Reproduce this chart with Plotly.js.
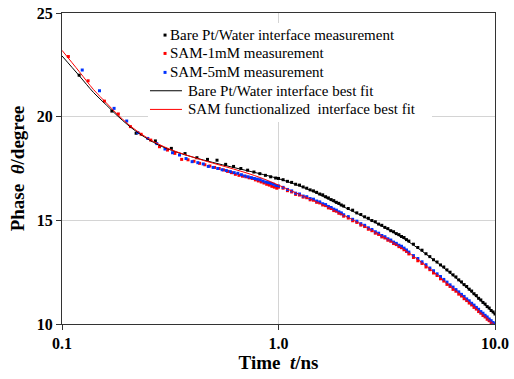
<!DOCTYPE html>
<html>
<head>
<meta charset="utf-8">
<script src="https://cdn.plot.ly/plotly-3.0.1.min.js"></script>
<style>html,body{margin:0;padding:0;background:#fff;}#chart{width:514px;height:379px;}</style>
</head>
<body>
<div id="chart"></div>
<script>
// shared dense time grid (ns) for t >= 1
const tDense = [1.0,1.05,1.1,1.15,1.2,1.25,1.3,1.35,1.4,1.45,1.5,1.55,1.6,1.65,1.7,1.75,1.8,1.85,1.9,1.95,2.0,
  2.1,2.2,2.3,2.4,2.5,2.6,2.7,2.8,2.9,3.0,3.1,3.2,3.3,3.4,3.5,3.6,3.7,3.8,3.9,4.0,
  4.2,4.4,4.6,4.8,5.0,5.2,5.4,5.6,5.8,6.0,6.2,6.4,6.6,6.8,7.0,7.2,7.4,7.6,7.8,8.0,8.2,8.4,8.6,8.8,9.0,9.2,9.4,9.6,9.8,10.0];

// Bare Pt/Water measurement
const bareEarlyT = [0.12,0.17,0.22,0.27,0.32,0.37,0.42,0.47,0.52,0.57,0.62,0.67,0.72,0.77,0.82,0.87,0.92,0.97];
const bareEarlyY = [22.0,20.27,19.2,18.83,18.47,18.22,18.02,17.94,17.9,17.7,17.6,17.5,17.42,17.33,17.25,17.17,17.1,17.04];
const bareDenseY = [17.02,16.96,16.88,16.83,16.74,16.70,16.61,16.55,16.47,16.42,16.35,16.27,16.23,16.14,16.08,16.00,15.95,15.87,15.82,15.74,15.69,
  15.57,15.49,15.36,15.28,15.17,15.10,14.99,14.93,14.82,14.76,14.66,14.60,14.50,14.45,14.36,14.31,14.22,14.17,14.07,14.00,
  13.85,13.69,13.56,13.39,13.25,13.10,12.99,12.85,12.75,12.61,12.50,12.37,12.27,12.13,12.03,11.90,11.81,11.68,11.59,11.46,11.37,11.24,11.16,11.04,10.96,10.84,10.77,10.65,10.58,10.48];

// SAM-1mM measurement
const sam1EarlyT = [0.107,0.132,0.157,0.182,0.207,0.232,0.257,0.282,0.307,0.332,0.357,0.382,0.407,0.432,0.457,0.482,0.507,0.532,0.557,0.582,0.607,0.632,0.657,0.682,0.707,0.732,0.757,0.782,0.807,0.832,0.857,0.882,0.907,0.932,0.957,0.982];
const sam1EarlyY = [22.9,21.73,20.75,20.13,19.52,19.15,18.87,18.55,18.39,18.23,17.94,17.92,17.85,17.75,17.68,17.62,17.55,17.5,17.43,17.36,17.3,17.22,17.17,17.13,17.1,17.05,17.02,16.95,16.9,16.85,16.8,16.74,16.7,16.64,16.6,16.55];
const sam1DenseY = [16.60,16.55,16.43,16.37,16.25,16.22,16.12,16.09,15.99,15.97,15.87,15.84,15.74,15.71,15.60,15.57,15.47,15.44,15.34,15.31,15.20,
  15.11,14.98,14.90,14.77,14.70,14.57,14.50,14.38,14.32,14.20,14.15,14.04,13.99,13.88,13.83,13.73,13.68,13.58,13.50,13.38,
  13.21,13.05,12.92,12.75,12.62,12.46,12.34,12.18,12.07,11.91,11.81,11.67,11.58,11.44,11.35,11.22,11.13,11.01,10.92,10.80,10.72,10.60,10.52,10.41,10.34,10.23,10.16,10.06,10.00,9.93];

// SAM-5mM measurement
const sam5EarlyT = [0.124,0.149,0.174,0.199,0.224,0.249,0.274,0.299,0.324,0.349,0.374,0.399,0.424,0.449,0.474,0.499,0.524,0.549,0.574,0.599,0.624,0.649,0.674,0.699,0.724,0.749,0.774,0.799,0.824,0.849,0.874,0.899,0.924,0.949,0.974];
const sam5EarlyY = [22.25,21.25,20.4,19.79,19.23,18.95,18.7,18.44,18.26,18.15,17.98,17.83,17.78,17.72,17.6,17.55,17.5,17.44,17.4,17.35,17.3,17.27,17.2,17.14,17.1,17.06,17.02,16.99,16.96,16.9,16.85,16.82,16.78,16.74,16.68];
const sam5DenseY = [16.66,16.59,16.49,16.42,16.31,16.27,16.17,16.14,16.05,16.02,15.93,15.89,15.80,15.76,15.67,15.62,15.54,15.49,15.41,15.36,15.27,
  15.18,15.05,14.96,14.84,14.76,14.64,14.56,14.45,14.38,14.27,14.21,14.11,14.05,13.95,13.89,13.80,13.75,13.66,13.57,13.47,
  13.30,13.16,13.00,12.86,12.70,12.57,12.42,12.29,12.15,12.02,11.89,11.78,11.66,11.55,11.43,11.33,11.21,11.12,11.00,10.91,10.80,10.71,10.60,10.52,10.42,10.34,10.24,10.16,10.07,10.01];

// Best fit curves
const fitT     = [0.1,0.12,0.14,0.16,0.18,0.2,0.22,0.25,0.28,0.32,0.37,0.45,0.55,0.7,0.85,1.0,1.2,1.45,1.7,2.0,2.5,3.0,3.5,4.2,5.0,6.0,7.0,8.5,10.0];
const bareFitY = [22.93,21.98,21.16,20.57,20.05,19.63,19.29,18.91,18.63,18.38,18.16,17.91,17.68,17.42,17.21,17.01,16.73,16.38,16.02,15.65,15.15,14.72,14.33,13.81,13.23,12.58,11.98,11.16,10.45];
const samFitY  = [23.2,22.18,21.30,20.67,20.12,19.68,19.34,18.95,18.67,18.40,18.17,17.89,17.63,17.31,17.01,16.70,16.33,15.96,15.63,15.25,14.72,14.25,13.85,13.27,12.66,11.96,11.38,10.6,9.95];

const names = ['Bare Pt/Water interface measurement','SAM-1mM measurement','SAM-5mM measurement',
  'Bare Pt/Water interface best fit','SAM functionalized&nbsp; interface best fit'];
const colors = ['#000000','#ff0000','#0033ff','#000000','#ff0000'];

const serif = 'Liberation Serif, Times New Roman, serif';

const traces = [
  {x: bareEarlyT.concat(tDense), y: bareEarlyY.concat(bareDenseY), mode:'markers', name:names[0],
   marker:{symbol:'square', size:3, color:colors[0]}},
  {x: sam1EarlyT.concat(tDense), y: sam1EarlyY.concat(sam1DenseY), mode:'markers', name:names[1],
   marker:{symbol:'square', size:3, color:colors[1]}},
  {x: sam5EarlyT.concat(tDense), y: sam5EarlyY.concat(sam5DenseY), mode:'markers', name:names[2],
   marker:{symbol:'square', size:3, color:colors[2]}},
  {x: fitT, y: bareFitY, mode:'lines', name:names[3], line:{color:colors[3], width:1, shape:'spline', smoothing:1}},
  {x: fitT, y: samFitY, mode:'lines', name:names[4], line:{color:colors[4], width:1, shape:'spline', smoothing:1}}
];

// custom legend (paper coordinates of the plot area)
const legRowY = [0.929, 0.870, 0.809, 0.750, 0.690];
const shapes = [
  {type:'rect', xref:'paper', yref:'paper', x0:0.1986, x1:0.8545, y0:0.6495, y1:0.9678,
   fillcolor:'#ffffff', line:{width:0}, layer:'above'}
];
const annotations = [];
names.forEach((nm, i) => {
  const isMarker = i < 3;
  if (isMarker) {
    shapes.push({type:'rect', xref:'paper', yref:'paper', x0:0.2345, x1:0.2414,
      y0:legRowY[i]-0.0048, y1:legRowY[i]+0.0048, fillcolor:colors[i], line:{width:0}, layer:'above'});
  } else {
    shapes.push({type:'line', xref:'paper', yref:'paper', x0:0.2032, x1:0.2771,
      y0:legRowY[i], y1:legRowY[i], line:{color:colors[i], width:1}, layer:'above'});
  }
  annotations.push({xref:'paper', yref:'paper', x: isMarker ? 0.2448 : 0.2864, y: legRowY[i],
    xanchor:'left', yanchor:'middle', showarrow:false, text:nm,
    font:{family:serif, size:15, color:'#000'}});
});

const layout = {
  width:514, height:379,
  margin:{l:62, r:19, t:13, b:55},
  paper_bgcolor:'#fff', plot_bgcolor:'#fff',
  showlegend:false,
  shapes: shapes,
  annotations: annotations,
  xaxis:{type:'log', range:[-1,1], tickvals:[0.1,1,10], ticktext:['0.1','1.0','10.0'],
    ticks:'outside', ticklen:5, tickcolor:'#333', showline:true, linecolor:'#333', linewidth:1, mirror:true,
    showgrid:true, gridcolor:'#d4d4d4', gridwidth:1, zeroline:false,
    tickfont:{family:serif, size:16, color:'#000', weight:'bold'},
    title:{text:'<b>Time  <i>t</i>/ns</b>', font:{family:serif, size:19, color:'#000'}, standoff:4}},
  yaxis:{range:[10,25], tickvals:[10,15,20,25], ticks:'outside', ticklen:5, tickcolor:'#333',
    showline:true, linecolor:'#333', linewidth:1, mirror:true,
    showgrid:true, gridcolor:'#d4d4d4', gridwidth:1, zeroline:false,
    tickfont:{family:serif, size:16, color:'#000', weight:'bold'},
    title:{text:'<b>Phase  <i>θ</i>/degree</b>', font:{family:serif, size:19, color:'#000'}, standoff:7}}
};

Plotly.newPlot('chart', traces, layout, {displayModeBar:false, staticPlot:true});
</script>
</body>
</html>
